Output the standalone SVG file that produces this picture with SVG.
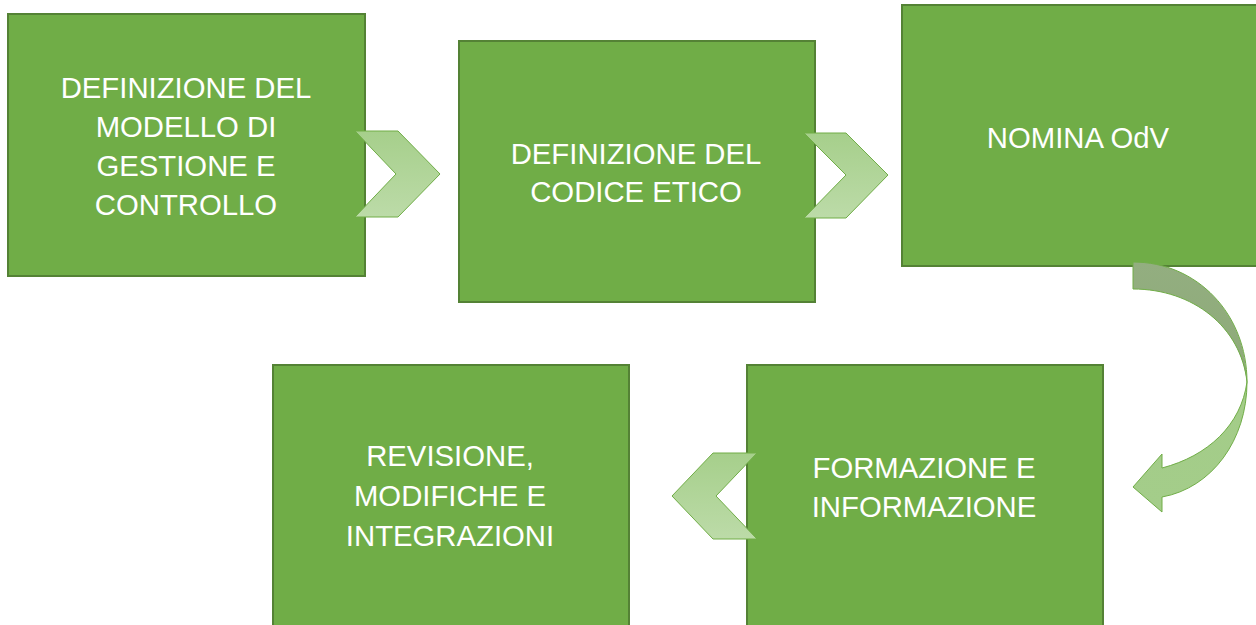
<svg xmlns="http://www.w3.org/2000/svg" width="1256" height="625" viewBox="0 0 1256 625">
<defs>
<linearGradient id="chev" x1="0" y1="0" x2="0" y2="1">
<stop offset="0" stop-color="#A6CF8B"/>
<stop offset="1" stop-color="#BCDBA8"/>
</linearGradient>
<linearGradient id="curveTop" x1="0" y1="0" x2="0" y2="1">
<stop offset="0" stop-color="#93AE80"/>
<stop offset="1" stop-color="#8DAA78"/>
</linearGradient>
<linearGradient id="curveBot" x1="0" y1="0" x2="0" y2="1">
<stop offset="0" stop-color="#A3CC88"/>
<stop offset="1" stop-color="#A4CD8A"/>
</linearGradient>
</defs>
<style>
.box{fill:#70AD47;stroke:#548235;stroke-width:2}
.lbl{font-family:"Liberation Sans",Arial,sans-serif;font-size:29.3px;fill:#FFFFFF;text-anchor:middle}
.arr{stroke:#70AD47;stroke-width:1;stroke-linejoin:miter}
</style>
<rect width="1256" height="625" fill="#FFFFFF"/>
<g id="node1">
<rect class="box" x="8" y="14" width="357" height="262"/>
<text class="lbl" x="186" y="98">DEFINIZIONE DEL</text>
<text class="lbl" x="186" y="137">MODELLO DI</text>
<text class="lbl" x="186" y="176">GESTIONE E</text>
<text class="lbl" x="186" y="215">CONTROLLO</text>
</g>
<g id="node2">
<rect class="box" x="459" y="41" width="356" height="261"/>
<text class="lbl" x="636" y="164">DEFINIZIONE DEL</text>
<text class="lbl" x="636" y="202">CODICE ETICO</text>
</g>
<g id="node3">
<rect class="box" x="902" y="5" width="360" height="261"/>
<text class="lbl" x="1078" y="148">NOMINA OdV</text>
</g>
<g id="node4">
<rect class="box" x="273" y="365" width="356" height="270"/>
<text class="lbl" x="450" y="466">REVISIONE,</text>
<text class="lbl" x="450" y="506">MODIFICHE E</text>
<text class="lbl" x="450" y="546">INTEGRAZIONI</text>
</g>
<g id="node5">
<rect class="box" x="747" y="365" width="356" height="270"/>
<text class="lbl" x="924" y="478">FORMAZIONE E</text>
<text class="lbl" x="924" y="517">INFORMAZIONE</text>
</g>
<g id="connectors">
<polygon class="arr" fill="url(#chev)" points="355,131 398,131 440,174 398,217 355,217 396,174"/>
<polygon class="arr" fill="url(#chev)" points="804,133 846,133 888,175 846,218 804,218 846,175"/>
<polygon class="arr" fill="url(#chev)" points="672,496 713,453 757,453 716,496 757,539 713,539"/>
<path class="arr" fill="url(#curveTop)" d="M1133,262 C1197,262 1247,314 1247,382 C1241,327 1193,289 1133,289 Z"/>
<path class="arr" fill="url(#curveBot)" d="M1247,382 C1247,440 1212,488 1162,497 L1162,512 L1133,487 L1162,454 L1162,468 C1208,456 1241,425 1247,382 Z"/>
</g>
</svg>
